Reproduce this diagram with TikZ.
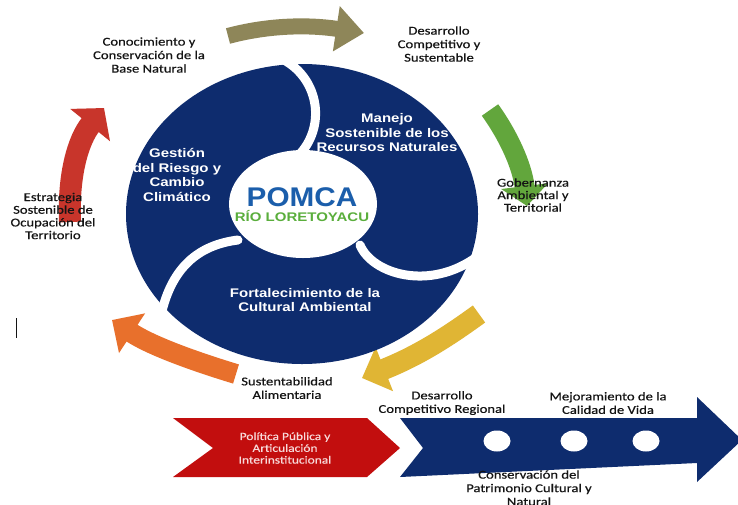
\documentclass[tikz,border=0pt]{standalone}
\usepackage{fontspec}
\setmainfont{Carlito}[FakeStretch=1.22, FakeBold=0.4]
\newfontfamily\innerfont{Liberation Sans}[FakeStretch=1.2]
\newfontfamily\pomfont{Liberation Sans}[FakeStretch=1.1]
\usetikzlibrary{arrows.meta}
\definecolor{navy}{HTML}{0E2C6E}
\definecolor{pomblue}{HTML}{1B5EAB}
\definecolor{riogreen}{HTML}{5AAE3C}
\definecolor{olivec}{HTML}{8E8659}
\definecolor{greenc}{HTML}{62A63C}
\definecolor{yellowc}{HTML}{E0B534}
\definecolor{orangec}{HTML}{E8702C}
\definecolor{redarr}{HTML}{C8352B}
\definecolor{chevred}{HTML}{C20E0E}
\definecolor{pinktxt}{HTML}{F8DADA}
\definecolor{lbl}{HTML}{141414}
\tikzset{
  outerlbl/.style={align=center, text=lbl, font=\fontsize{12}{13.5}\selectfont, inner sep=0pt},
  innerlbl/.style={align=center, text=white, font=\innerfont\bfseries\fontsize{12.5}{14.5}\selectfont, inner sep=0pt},
  gap/.style={white, line width=9pt, line cap=round},
}
\begin{document}
\begin{tikzpicture}[x=1pt,y=-1pt]
\useasboundingbox (0,0) rectangle (738,504);
\fill[white] (0,0) rectangle (738,504);

% ring arrows
\draw[olivec, line width=16pt, -{Triangle[width=44pt,length=28pt]}] (228,36) .. controls (265,26) and (305,24) .. (364,33);
\draw[greenc, line width=20pt, -{Triangle[width=46pt,length=20pt]}] (490,110) .. controls (508,135) and (522,165) .. (527,206);
\draw[yellowc, line width=21pt, -{Triangle[width=46pt,length=24pt]}] (479,314) .. controls (450,335) and (420,355) .. (362,378);
\draw[orangec, line width=20pt, -{Triangle[width=46pt,length=24pt]}] (236,374) .. controls (190,360) and (150,345) .. (112,320);
\draw[redarr, line width=22pt, -{Triangle[width=50pt,length=22pt]}] (70,222) .. controls (68,175) and (78,140) .. (104,108);

% central disc
\fill[navy] (302,214) ellipse [x radius=176pt, y radius=150pt];
\fill[white] (303,204) ellipse [x radius=74pt, y radius=54pt];
\draw[gap] (284,60) .. controls (320,80) and (326,128) .. (298,156);
\draw[gap] (238,240) .. controls (198,245) and (170,268) .. (160,320);
\draw[gap] (360,245) .. controls (372,274) and (430,292) .. (478,256);

\node[font=\pomfont\bfseries\fontsize{27}{27}\selectfont, text=pomblue, inner sep=0pt] (pomca) at (302,197) {POMCA};
\node[font=\innerfont\bfseries\fontsize{12.5}{12.5}\selectfont, text=riogreen, inner sep=0pt] (rio) at (302,216) {RÍO LORETOYACU};

\node[innerlbl] (gestion) at (177,175) {Gestión\\del Riesgo y\\Cambio\\Climático};
\node[innerlbl] (manejo) at (387,133) {Manejo\\Sostenible de los\\Recursos Naturales};
\node[innerlbl] (fort) at (305,300) {Fortalecimiento de la\\Cultural Ambiental};

% outer labels
\node[outerlbl] (cono) at (149,55) {Conocimiento y\\Conservación de la\\Base Natural};
\node[outerlbl] (desc) at (439,44) {Desarrollo\\Competitivo y\\Sustentable};
\node[outerlbl, font=\fontsize{12}{12.5}\selectfont] (gob) at (533,195) {Gobernanza\\Ambiental y\\Territorial};
\node[outerlbl, font=\fontsize{12}{12.7}\selectfont] (estr) at (53,216) {Estrategia\\Sostenible de\\Ocupación del\\Territorio};
\node[outerlbl] (sust) at (287,388) {Sustentabilidad\\Alimentaria};

% bottom arrows
\fill[chevred] (173,418) -- (367,418) -- (400,448) -- (367,477) -- (173,477) -- (213,448) -- cycle;
\node[outerlbl, text=pinktxt, font=\fontsize{11}{11.8}\selectfont] (pol) at (285,448) {Política Pública y\\Articulación\\Interinstitucional};
\fill[navy] (400,418) -- (697,418) -- (697,397) -- (742,440) -- (697,482) -- (697,463) -- (400,477) -- (423,448) -- cycle;
\foreach \n/\x in {c1/497, c2/574, c3/646} {
  \fill[white] (\x,441) ellipse [x radius=13.5pt, y radius=10.5pt];
}
\node[outerlbl] (dcr) at (442,403) {Desarrollo\\Competitivo Regional};
\node[outerlbl] (mej) at (608,403) {Mejoramiento de la\\Calidad de Vida};
\node[outerlbl] (cons) at (529,488) {Conservación del\\Patrimonio Cultural y\\Natural};

\draw[lbl, line width=0.8pt] (16,318) -- (16,338);
\end{tikzpicture}
\end{document}
